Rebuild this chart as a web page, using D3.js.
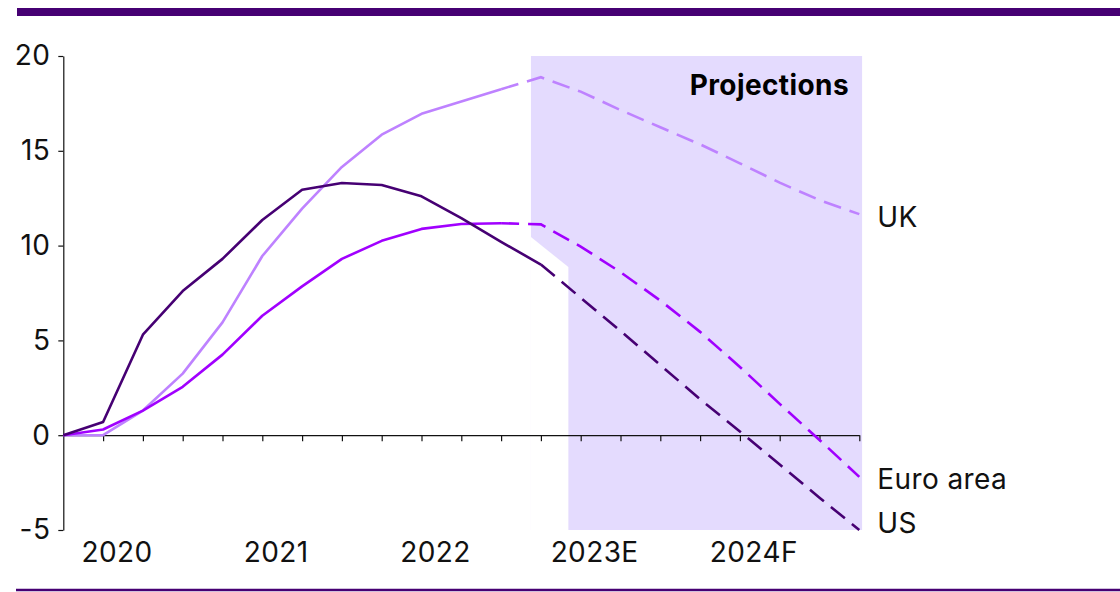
<!DOCTYPE html>
<html>
<head>
<meta charset="utf-8">
<script src="https://cdn.jsdelivr.net/npm/d3@7"></script>
<style>
  html, body { margin: 0; padding: 0; background: #fff; }
  svg { display: block; font-family: Inter, "Noto Sans", sans-serif; }
</style>
</head>
<body>
<svg id="chart" width="1120" height="592"></svg>
<script>
// Quarterly categories (Q4 2019 baseline to Q4 2024)
const categories = ["Q4 2019",
  "Q1 2020","Q2 2020","Q3 2020","Q4 2020",
  "Q1 2021","Q2 2021","Q3 2021","Q4 2021",
  "Q1 2022","Q2 2022","Q3 2022","Q4 2022",
  "Q1 2023","Q2 2023","Q3 2023","Q4 2023",
  "Q1 2024","Q2 2024","Q3 2024","Q4 2024"];

const usValues   = [0, 0.7, 5.3, 7.6, 9.3, 11.35, 12.95, 13.3, 13.2, 12.6, 11.45, 10.2, 9.0,
                    7.25, 5.5, 3.7, 1.9, 0.2, -1.55, -3.3, -5.0];
const euroValues = [0, 0.3, 1.3, 2.55, 4.25, 6.3, 7.85, 9.3, 10.25, 10.88, 11.14, 11.18, 11.12,
                    9.95, 8.6, 7.1, 5.45, 3.6, 1.65, -0.25, -2.2];
const ukValues   = [0, 0, 1.3, 3.25, 5.95, 9.45, 11.95, 14.15, 15.85, 16.95, 17.6, 18.25, 18.88,
                    18.12, 17.15, 16.24, 15.34, 14.34, 13.32, 12.4, 11.66];

const yearLabels = ["2020", "2021", "2022", "2023E", "2024F"];
const yTicks = [-5, 0, 5, 10, 15, 20];

const colors = { "US": "#460073", "Euro area": "#A100FF", "UK": "#BE82FF" };

const series = [
  { name: "UK", values: ukValues, dashFrom: 11 },
  { name: "Euro area", values: euroValues, dashFrom: 11 },
  { name: "US", values: usValues, dashFrom: 12 }
];

(function () {
const svg = d3.select("#chart");
const W = 1120;
const mLeft = 63.3, mRight = 859.3, mTop = 56, mBottom = 530;
const FS = 28, LS = "0.4px";

const x = d3.scaleLinear().domain([0, categories.length - 1]).range([mLeft, mRight]);
const y = d3.scaleLinear().domain([-5, 20]).range([mBottom, mTop]);

// top bar & bottom rule
svg.append("rect").attr("x", 17).attr("y", 8).attr("width", W - 17).attr("height", 8).attr("fill", "#460073");
svg.append("line").attr("x1", 16).attr("x2", W).attr("y1", 590).attr("y2", 590)
  .attr("stroke", "#460073").attr("stroke-width", 2.5);

// projections shading
const projStart = 11.75, projNotch = 12.69, projEnd = 20.07;
svg.append("rect")
  .attr("x", x(projStart)).attr("y", y(20))
  .attr("width", x(projEnd) - x(projStart)).attr("height", y(-5) - y(20))
  .attr("fill", "#E4DBFE");
svg.append("polygon")
  .attr("points", [
    [x(projStart), y(10.45)], [x(projNotch), y(8.87)],
    [x(projNotch), y(-5) + 1], [x(projStart), y(-5) + 1]
  ].map(p => p.join(",")).join(" "))
  .attr("fill", "#fff");

svg.append("text")
  .attr("x", 849).attr("y", 95)
  .attr("text-anchor", "end")
  .attr("font-size", FS).attr("font-weight", 700).attr("letter-spacing", LS).attr("fill", "#000")
  .text("Projections");

// axes
const yAxis = svg.append("g")
  .attr("transform", `translate(${mLeft},0)`)
  .call(d3.axisLeft(y).tickValues(yTicks).tickSize(5).tickSizeOuter(0).tickPadding(8)
    .tickFormat(d => String(d)));
yAxis.select(".domain").attr("stroke", "#111").attr("stroke-width", 1.2);
yAxis.selectAll(".tick line").attr("stroke", "#111").attr("stroke-width", 1.2);
yAxis.selectAll(".tick text").attr("font-size", FS).attr("letter-spacing", LS)
  .attr("font-family", "Inter, sans-serif").attr("fill", "#111");

const xAxis = svg.append("g")
  .attr("transform", `translate(0,${y(0)})`)
  .call(d3.axisBottom(x).tickValues(d3.range(1, categories.length)).tickSize(6).tickSizeOuter(0).tickFormat(""));
xAxis.select(".domain").attr("stroke", "#111").attr("stroke-width", 1.2);
xAxis.selectAll(".tick line").attr("stroke", "#111").attr("stroke-width", 1.2);

// year labels
svg.append("g").selectAll("text")
  .data(yearLabels)
  .join("text")
  .attr("x", (d, i) => x(1.35 + 4 * i))
  .attr("y", 561.5)
  .attr("text-anchor", "middle")
  .attr("font-size", FS).attr("letter-spacing", LS).attr("fill", "#111")
  .text(d => d);

// lines
const line = d3.line().x(d => x(d.i)).y(d => y(d.v));
series.forEach(s => {
  const pts = s.values.map((v, i) => ({ i, v }));
  svg.append("path")
    .attr("d", line(pts.slice(0, s.dashFrom + 1)))
    .attr("fill", "none").attr("stroke", colors[s.name]).attr("stroke-width", 2.6)
    .attr("stroke-linejoin", "round");
  svg.append("path")
    .attr("d", line(pts.slice(s.dashFrom)))
    .attr("fill", "none").attr("stroke", colors[s.name]).attr("stroke-width", 2.6)
    .attr("stroke-dasharray", "18,9");
});

// series labels
series.forEach(s => {
  const last = s.values[s.values.length - 1];
  const shift = s.name === "US" ? -7 : 2.5;
  svg.append("text")
    .attr("x", x(categories.length - 1) + 18)
    .attr("y", y(last) + shift)
    .attr("dy", "0.36em")
    .attr("font-size", FS).attr("letter-spacing", LS).attr("fill", "#111")
    .text(s.name);
});
})();
</script>
</body>
</html>
